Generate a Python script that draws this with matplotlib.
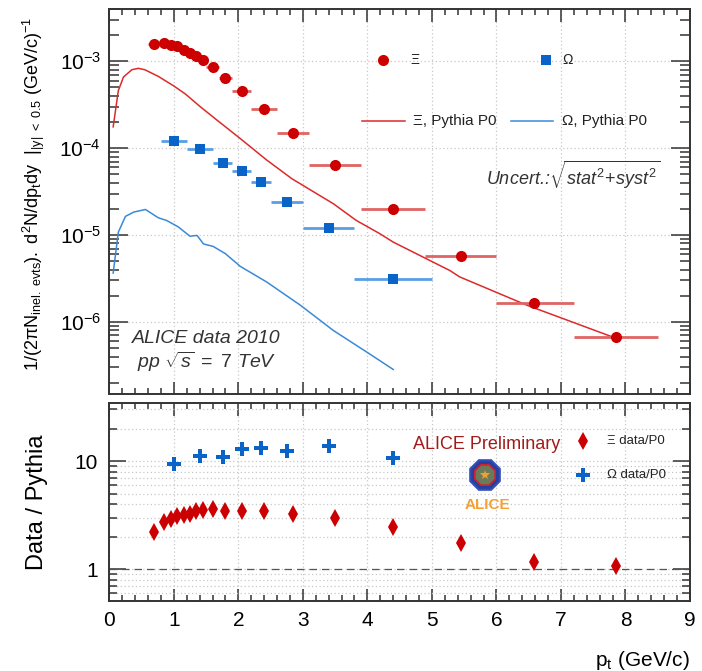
import matplotlib
matplotlib.use("Agg")
import matplotlib.pyplot as plt
from matplotlib.patches import RegularPolygon
from matplotlib.ticker import LogLocator, MultipleLocator, NullFormatter, FixedLocator, FixedFormatter

plt.rcParams['font.family'] = ['Liberation Sans', 'DejaVu Sans']
plt.rcParams['mathtext.fontset'] = 'custom'
plt.rcParams['mathtext.rm'] = 'Liberation Sans'
plt.rcParams['mathtext.it'] = 'Liberation Sans:italic'
plt.rcParams['mathtext.bf'] = 'Liberation Sans:bold'
plt.rcParams['mathtext.default'] = 'regular'

# Xi data (pt bins and yield)
xi_pt = [0.70, 0.85, 0.95, 1.05, 1.15, 1.25, 1.35, 1.45, 1.60, 1.80, 2.05, 2.40, 2.85, 3.50, 4.40, 5.45, 6.59, 7.85]
xi_lo = [0.60, 0.80, 0.90, 1.00, 1.10, 1.20, 1.30, 1.40, 1.50, 1.70, 1.90, 2.20, 2.60, 3.10, 3.90, 4.90, 6.00, 7.20]
xi_hi = [0.80, 0.90, 1.00, 1.10, 1.20, 1.30, 1.40, 1.50, 1.70, 1.90, 2.20, 2.60, 3.10, 3.90, 4.90, 6.00, 7.20, 8.50]
xi_val = [1.57e-3, 1.62e-3, 1.55e-3, 1.50e-3, 1.36e-3, 1.24e-3, 1.14e-3, 1.03e-3, 8.6e-4, 6.4e-4,
          4.6e-4, 2.81e-4, 1.48e-4, 6.4e-5, 2.0e-5, 5.7e-6, 1.64e-6, 6.7e-7]

# Omega data
om_pt = [1.00, 1.40, 1.76, 2.05, 2.35, 2.75, 3.40, 4.40]
om_lo = [0.80, 1.20, 1.60, 1.90, 2.20, 2.50, 3.00, 3.80]
om_hi = [1.20, 1.60, 1.90, 2.20, 2.50, 3.00, 3.80, 5.00]
om_val = [1.21e-4, 9.8e-5, 6.8e-5, 5.4e-5, 4.07e-5, 2.42e-5, 1.19e-5, 3.12e-6]

# Pythia P0 curves
py_xi_pt = [0.06, 0.14, 0.22, 0.35, 0.45, 0.55, 0.76, 1.00, 1.18, 1.41, 1.67, 2.03, 2.44, 2.83,
            3.47, 3.83, 4.19, 4.40, 5.28, 5.43, 6.47, 7.78]
py_xi_val = [1.76e-4, 4.6e-4, 6.6e-4, 8.0e-4, 8.3e-4, 8.0e-4, 6.7e-4, 5.2e-4, 4.2e-4, 3.0e-4,
             2.1e-4, 1.29e-4, 7.3e-5, 4.45e-5, 2.3e-5, 1.47e-5, 1.04e-5, 8.3e-6, 3.9e-6, 3.3e-6,
             1.56e-6, 6.8e-7]
py_om_pt = [0.06, 0.14, 0.25, 0.38, 0.56, 0.76, 0.89, 1.07, 1.25, 1.36, 1.46, 1.61, 1.80, 2.03,
            2.44, 2.96, 3.47, 3.99, 4.40]
py_om_val = [3.65e-6, 1.08e-5, 1.64e-5, 1.84e-5, 1.97e-5, 1.58e-5, 1.47e-5, 1.24e-5, 9.7e-6,
             9.9e-6, 7.9e-6, 7.4e-6, 6.1e-6, 4.36e-6, 2.88e-6, 1.56e-6, 8.0e-7, 4.5e-7, 2.84e-7]

# ratios data / Pythia
xi_ratio = [2.21, 2.71, 2.90, 3.12, 3.16, 3.23, 3.44, 3.49, 3.59, 3.46, 3.46, 3.42, 3.25, 2.95,
            2.46, 1.75, 1.15, 1.07]
xi_ratio_err = [0, 0, 0, 0, 0, 0, 0, 0, 0, 0, 0, 0, 0, 0, 0.03, 0.04, 0.06, 0.12]
om_ratio = [9.3, 11.1, 10.9, 12.9, 13.3, 12.4, 13.7, 10.7]

red = '#cc0000'
red_err = '#e06464'
red_line = '#dd2a2a'
blue = '#0a64c8'
blue_err = '#5a9ee6'
blue_line = '#3a8ad8'
frame = '#333333'

fig = plt.figure(figsize=(7.02, 6.71), dpi=100)
ax1 = fig.add_axes([0.1557, 0.4124, 0.8272, 0.5742])
ax2 = fig.add_axes([0.1557, 0.1043, 0.8272, 0.2956])


def style(ax, ymaj_len, ymin_len):
    for s in ax.spines.values():
        s.set_linewidth(1.4)
        s.set_color(frame)
    ax.tick_params(which='both', direction='in', top=True, right=True, color=frame, width=1.1)
    ax.tick_params(axis='x', which='major', length=9)
    ax.tick_params(axis='x', which='minor', length=4.5)
    ax.tick_params(axis='y', which='major', length=ymaj_len)
    ax.tick_params(axis='y', which='minor', length=ymin_len)
    ax.set_xlim(0, 9)
    ax.xaxis.set_major_locator(MultipleLocator(1))
    ax.xaxis.set_minor_locator(MultipleLocator(0.2))


# ---- top panel
style(ax1, 14, 7)
ax1.set_yscale('log')
ax1.set_ylim(1.47e-7, 4.0e-3)
ax1.yaxis.set_major_locator(FixedLocator([1e-6, 1e-5, 1e-4, 1e-3]))
ax1.yaxis.set_major_formatter(FixedFormatter([r'$10^{-6}$', r'$10^{-5}$', r'$10^{-4}$', r'$10^{-3}$']))
ax1.yaxis.set_minor_locator(LogLocator(base=10, subs=range(2, 10), numticks=20))
ax1.yaxis.set_minor_formatter(NullFormatter())
ax1.tick_params(axis='x', labelbottom=False)
ax1.tick_params(axis='y', labelsize=15, pad=6)
ax1.grid(True, which='major', color='#c8c8c8', linestyle=(0, (1, 2)), linewidth=0.9)

ax1.plot(py_xi_pt, py_xi_val, color=red_line, lw=1.1, zorder=3)
ax1.plot(py_om_pt, py_om_val, color=blue_line, lw=1.1, zorder=3)

xerr_xi = [[p - l for p, l in zip(xi_pt, xi_lo)], [h - p for p, h in zip(xi_pt, xi_hi)]]
xerr_om = [[p - l for p, l in zip(om_pt, om_lo)], [h - p for p, h in zip(om_pt, om_hi)]]
ax1.errorbar(xi_pt, xi_val, xerr=xerr_xi, fmt='none', ecolor=red_err, elinewidth=2, zorder=4)
ax1.errorbar(om_pt, om_val, xerr=xerr_om, fmt='none', ecolor=blue_err, elinewidth=2, zorder=4)
ax1.plot(xi_pt, xi_val, 'o', color=red, ms=8, mew=0, zorder=5)
ax1.plot(om_pt, om_val, 's', color=blue, ms=6.5, mew=0, zorder=5)

# legend (drawn by hand, ROOT style)
ax1.plot([4.24], [1.03e-3], 'o', color=red, ms=8, mew=0)
ax1.text(4.67, 1.03e-3, '\u039e', fontsize=10, va='center', ha='left', color='#222222')
ax1.plot([6.77], [1.03e-3], 's', color=blue, ms=6.5, mew=0)
ax1.text(7.02, 1.03e-3, '\u03a9', fontsize=10, va='center', ha='left', color='#222222')
ax1.plot([3.92, 4.58], [2.04e-4, 2.04e-4], color=red_line, lw=1.1)
ax1.text(4.70, 2.04e-4, '\u039e, Pythia P0', fontsize=11, va='center', ha='left', color='#222222')
ax1.plot([6.23, 6.88], [2.04e-4, 2.04e-4], color=blue_line, lw=1.1)
ax1.text(7.02, 2.04e-4, '\u03a9, Pythia P0', fontsize=11, va='center', ha='left', color='#222222')

ax1.text(5.84, 4.9e-5, r'Uncert.:$\sqrt{\mathit{stat^{2}\!+\!syst^{2}}}$', fontsize=13,
         style='italic', va='center', ha='left', color='#333333')
ax1.text(0.039, 0.146, 'ALICE data 2010', transform=ax1.transAxes, fontsize=14,
         style='italic', color='#333333', va='center')
ax1.text(0.048, 0.084, r'$\mathit{pp}\ \sqrt{\mathit{s}}\ \mathit{=\ 7\ TeV}$', transform=ax1.transAxes,
         fontsize=14, color='#333333', va='center')

ax1.set_ylabel(r'$1/(2\pi N_{inel.\ evts}).\ d^{2}N/dp_{t}dy\ \ |_{|y|\ <\ 0.5}\ (GeV/c)^{-1}$',
               fontsize=13)
ax1.yaxis.set_label_coords(-0.108, 0.52)

# ---- bottom panel
style(ax2, 12, 6)
ax2.set_yscale('log')
ax2.set_ylim(0.506, 34.7)
ax2.yaxis.set_major_locator(FixedLocator([1, 10]))
ax2.yaxis.set_major_formatter(FixedFormatter(['1', '10']))
ax2.yaxis.set_minor_locator(LogLocator(base=10, subs=range(2, 10), numticks=20))
ax2.yaxis.set_minor_formatter(NullFormatter())
ax2.tick_params(axis='both', labelsize=15)
ax2.tick_params(axis='x', pad=7)
ax2.tick_params(axis='y', pad=8)
ax2.grid(True, which='major', axis='x', color='#c8c8c8', linestyle=(0, (1, 2)), linewidth=0.9)
ax2.grid(True, which='both', axis='y', color='#c8c8c8', linestyle=(0, (1, 2)), linewidth=0.9)
ax2.axhline(1, color='#555555', lw=0.9, ls=(0, (6, 4)), zorder=2)

ax2.errorbar(xi_pt, xi_ratio, yerr=xi_ratio_err, fmt='d', color=red, ms=9, mew=0,
             ecolor=red, elinewidth=1.2, capsize=3, zorder=5)
ax2.plot(om_pt, om_ratio, 'P', color=blue, ms=10, mew=0, zorder=5)

ax2.plot([0.816], [0.807], 'd', color=red, ms=9, mew=0, transform=ax2.transAxes)
ax2.text(0.857, 0.807, '\u039e data/P0', transform=ax2.transAxes, fontsize=9.5, va='center',
         color='#222222')
ax2.plot([0.816], [0.635], 'P', color=blue, ms=10, mew=0, transform=ax2.transAxes)
ax2.text(0.857, 0.635, '\u03a9 data/P0', transform=ax2.transAxes, fontsize=9.5, va='center',
         color='#222222')

ax2.text(0.649, 0.787, 'ALICE Preliminary', transform=ax2.transAxes, fontsize=13,
         color='#a31a1a', ha='center', va='center')
# small ALICE logo, drawn in inches so the octagon stays regular
logo_xy = (4.85, 1.96)
fig.add_artist(RegularPolygon(logo_xy, 8, radius=0.16, orientation=0.3927,
                              transform=fig.dpi_scale_trans, facecolor='#2a3f9a',
                              edgecolor='#3050c0', lw=1.5, zorder=6))
fig.add_artist(RegularPolygon(logo_xy, 8, radius=0.11, orientation=0.3927,
                              transform=fig.dpi_scale_trans, facecolor='#6a7a5a',
                              edgecolor='#d02030', lw=1.2, zorder=7))
fig.add_artist(plt.Line2D([logo_xy[0]], [logo_xy[1]], marker='*', color='#f0a030', ms=7, mew=0,
                          transform=fig.dpi_scale_trans, zorder=8))
ax2.text(0.652, 0.485, 'ALICE', transform=ax2.transAxes, fontsize=11, fontweight='bold',
         color='#f5a033', ha='center', va='center', zorder=8)

ax2.set_ylabel('Data / Pythia', fontsize=17)
ax2.yaxis.set_label_coords(-0.105, 0.5)
ax2.set_xlabel(r'$p_{t}$ (GeV/c)', fontsize=15, ha='right')
ax2.xaxis.set_label_coords(1.0, -0.24)

fig.savefig('out.png', dpi=100, facecolor='white')
